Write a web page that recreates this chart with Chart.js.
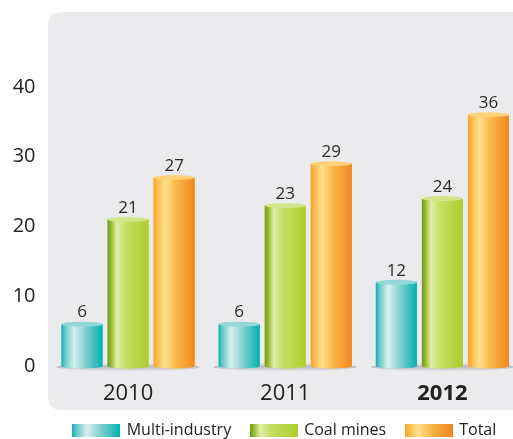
<!DOCTYPE html>
<html>
<head>
<meta charset="utf-8">
<script src="https://cdn.jsdelivr.net/npm/chart.js@4.4.0/dist/chart.umd.min.js"></script>
<style>
html,body{margin:0;padding:0;background:#fff;overflow:hidden;width:513px;height:439px;}
#wrap{width:530px;height:454px;}
</style>
</head>
<body>
<div id="wrap"><canvas id="c" width="530" height="454"></canvas></div>
<script>
const categories = ['2010', '2011', '2012'];
const multiIndustry = [6, 6, 12];
const coalMines = [21, 23, 24];
const total = [27, 29, 36];
const yTickValues = [0, 10, 20, 30, 40];
const seriesNames = ['Multi-industry', 'Coal mines', 'Total'];

const FONT = '"Open Sans", "Noto Sans", sans-serif';

// cylinder gradient stops per series
const gradStops = [
  [[0, '#14afb2'], [0.1, '#6ccaca'], [0.3, '#d8f0ef'], [0.6, '#7fcfcf'], [1, '#00b1b1']],
  [[0, '#6f951c'], [0.1, '#9cbf3a'], [0.22, '#e2eda6'], [0.45, '#c6dd62'], [1, '#acce2e']],
  [[0, '#f7a32a'], [0.12, '#fcc055'], [0.28, '#ffe08e'], [0.55, '#f9b648'], [1, '#f2871d']]
];
const capColors = ['#92d8d7', '#d2e48c', '#ffd27a'];
const solid = ['#3cbfbf', '#b6d442', '#f8a53a'];

function makeSwatch(i) {
  const cv = document.createElement('canvas');
  cv.width = 48; cv.height = 13;
  const g = cv.getContext('2d');
  const gr = g.createLinearGradient(0, 0, 48, 0);
  gradStops[i].forEach(s => gr.addColorStop(s[0], s[1]));
  g.fillStyle = gr;
  g.fillRect(0, 0, 48, 13);
  return cv;
}
const swatches = [0, 1, 2].map(makeSwatch);

const LEGEND_CX = 285, LEGEND_CY = 425;

const panelPlugin = {
  id: 'panel',
  afterLayout(chart) {
    const lg = chart.legend;
    if (lg) {
      const sx = LEGEND_CX - (lg.left + lg.right) / 2;
      lg.left += sx; lg.right += sx;
      const sy = LEGEND_CY - (lg.top + lg.bottom) / 2;
      lg.top += sy; lg.bottom += sy;
    }
  },
  beforeDraw(chart) {
    const ctx = chart.ctx;
    const x = chart.chartArea.left - 1.5, y = 12, w = 600, h = 398, r = 14;
    ctx.save();
    ctx.fillStyle = '#ebebed';
    ctx.beginPath();
    ctx.moveTo(x + r, y);
    ctx.lineTo(x + w, y);
    ctx.lineTo(x + w, y + h);
    ctx.lineTo(x + r, y + h);
    ctx.quadraticCurveTo(x, y + h, x, y + h - r);
    ctx.lineTo(x, y + r);
    ctx.quadraticCurveTo(x, y, x + r, y);
    ctx.closePath();
    ctx.fill();
    ctx.restore();
  },
  beforeDatasetsDraw(chart) {
    const ctx = chart.ctx;
    const n = categories.length;
    ctx.save();
    for (let i = 0; i < n; i++) {
      const first = chart.getDatasetMeta(0).data[i];
      const last = chart.getDatasetMeta(2).data[i];
      const l = first.x - first.width / 2 - 5;
      const r = last.x + last.width / 2 + 5;
      const yb = chart.scales.y.getPixelForValue(0) + 1;
      const gr = ctx.createLinearGradient(0, yb - 4, 0, yb + 5);
      gr.addColorStop(0, 'rgba(150,150,155,0.0)');
      gr.addColorStop(0.4, 'rgba(150,150,155,0.55)');
      gr.addColorStop(1, 'rgba(150,150,155,0.0)');
      ctx.fillStyle = gr;
      ctx.beginPath();
      ctx.ellipse((l + r) / 2, yb, (r - l) / 2, 4, 0, 0, Math.PI * 2);
      ctx.fill();
    }
    ctx.restore();
  },
  afterDatasetsDraw(chart) {
    const ctx = chart.ctx;
    ctx.save();
    chart.data.datasets.forEach((ds, di) => {
      const meta = chart.getDatasetMeta(di);
      meta.data.forEach((el, i) => {
        const l = el.x - el.width / 2, w = el.width;
        const top = el.y, base = el.base;
        const gr = ctx.createLinearGradient(l, 0, l + w, 0);
        gradStops[di].forEach(s => gr.addColorStop(s[0], s[1]));
        ctx.fillStyle = gr;
        ctx.fillRect(l, top, w, base - top);
        ctx.beginPath();
        ctx.ellipse(el.x, base, w / 2, 2.5, 0, 0, Math.PI);
        ctx.fill();
        ctx.fillStyle = capColors[di];
        ctx.beginPath();
        ctx.ellipse(el.x, top, w / 2, 2.5, 0, 0, Math.PI * 2);
        ctx.fill();
        ctx.fillStyle = '#2a2a2a';
        ctx.font = '17px ' + FONT;
        ctx.textAlign = 'center';
        ctx.textBaseline = 'bottom';
        ctx.fillText(String(ds.data[i]), el.x, top - 3);
      });
    });
    ctx.restore();
  }
};

new Chart(document.getElementById('c'), {
  type: 'bar',
  data: {
    labels: categories,
    datasets: [
      { label: seriesNames[0], data: multiIndustry, backgroundColor: solid[0] },
      { label: seriesNames[1], data: coalMines, backgroundColor: solid[1] },
      { label: seriesNames[2], data: total, backgroundColor: solid[2] }
    ]
  },
  options: {
    responsive: false,
    animation: false,
    layout: { padding: { left: 0, right: 9, top: 52, bottom: 0 } },
    datasets: { bar: { categoryPercentage: 0.879, barPercentage: 0.891 } },
    scales: {
      x: {
        grid: { display: false, drawTicks: false },
        border: { display: false },
        ticks: {
          padding: 15,
          color: '#222',
          font: ctx => ({ family: FONT, size: 22, weight: ctx.index === 2 ? 'bold' : 'normal' })
        },
        afterFit(s) { s.height = 42; }
      },
      y: {
        min: 0, max: 45,
        grid: { display: false, drawTicks: false },
        border: { display: false },
        afterBuildTicks(s) { s.ticks = yTickValues.map(v => ({ value: v })); },
        afterFit(s) { s.width = 49.5; },
        ticks: {
          padding: 14,
          color: '#222',
          font: { family: FONT, size: 20 }
        }
      }
    },
    plugins: {
      tooltip: { enabled: false },
      legend: {
        position: 'bottom',
        labels: {
          usePointStyle: true,
          pointStyleWidth: 45,
          boxHeight: 13,
          padding: 20,
          color: '#222',
          font: { family: FONT, size: 16 },
          generateLabels(chart) {
            return chart.data.datasets.map((ds, i) => ({
              text: ds.label,
              pointStyle: swatches[i],
              fillStyle: solid[i],
              strokeStyle: 'transparent',
              lineWidth: 0,
              hidden: false,
              datasetIndex: i,
              fontColor: '#222'
            }));
          }
        }
      }
    }
  },
  plugins: [panelPlugin]
});
</script>
</body>
</html>
